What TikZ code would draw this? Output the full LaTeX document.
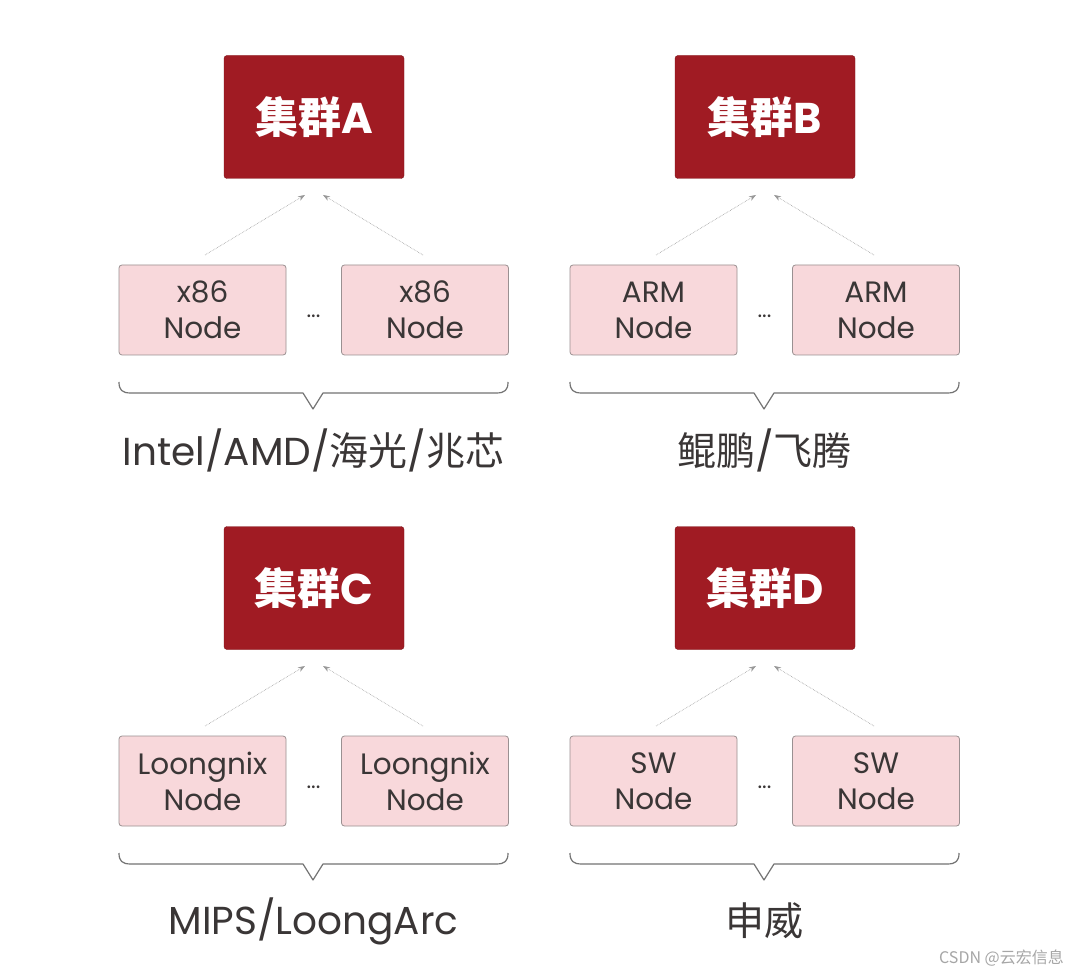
\documentclass[tikz,border=0pt]{standalone}
\usepackage{fontspec}
\setmainfont{Poppins}
\newfontfamily\cjk{Noto Sans CJK SC}
\usetikzlibrary{arrows.meta}
\definecolor{clred}{HTML}{A01B23}
\definecolor{nodepink}{HTML}{F8D8DB}
\definecolor{nodeedge}{HTML}{9A9091}
\definecolor{txt}{HTML}{3A3636}
\tikzset{
  redbox/.style={fill=clred, draw=clred!80!black, rounded corners=3pt, minimum width=180pt, minimum height=123pt, inner sep=0pt,
    text=white, font=\fontsize{43}{45}\selectfont\bfseries},
  pinkbox/.style={fill=nodepink, draw=nodeedge, line width=0.8pt, rounded corners=3pt, minimum width=167pt, minimum height=90pt, inner sep=0pt,
    text=txt, align=center, font=\fontsize{29.5}{36}\selectfont},
  dotslbl/.style={text=txt, font=\fontsize{22}{24}\selectfont, inner sep=0pt},
  grouplbl/.style={text=txt, font=\fontsize{39}{44}\selectfont, inner sep=0pt},
  conn/.style={draw=gray!80, line width=0.6pt, densely dotted, -{Stealth[length=7pt,width=5pt]}},
  bracepath/.style={draw=gray!90!black, line width=1.2pt, line join=round},
}
\newcommand{\clustergroup}[6]{%
  \begin{scope}[xshift=#2pt, yshift=-#3pt]
    \node[redbox] (r#1) at (314,117) {{\cjk\bfseries 集群}#1};
    \node[pinkbox] (p#1a) at (202.5,310) {#4\\Node};
    \node[pinkbox] (p#1b) at (425,310) {#4\\Node};
    \node[dotslbl] (d#1) at (313.5,316) {...};
    \coordinate (s#1a) at (205,255);
    \coordinate (s#1b) at (423,255);
    \coordinate (e#1a) at (305,195);
    \coordinate (e#1b) at (323,195);
    \draw[conn] (s#1a) -- (e#1a);
    \draw[conn] (s#1b) -- (e#1b);
    \draw[bracepath] (119,382) .. controls (119,390) and (122,393) .. (131,393) -- (303,393) -- (313,409) -- (323,393) -- (496,393) .. controls (505,393) and (508,390) .. (508,382);
    \node[grouplbl] (l#1) at (313.5,450) {#5};
  \end{scope}}
\begin{document}
\begin{tikzpicture}[x=1pt,y=-1pt]
  \useasboundingbox[fill=white] (0,0) rectangle (1080,976);
  \clustergroup{A}{0}{0}{x86}{Intel/AMD/{\cjk 海光}/{\cjk 兆芯}}{}
  \clustergroup{B}{451}{0}{ARM}{{\cjk 鲲鹏}/{\cjk 飞腾}}{}
  \clustergroup{C}{0}{471}{Loongnix}{MIPS/LoongArc}{}
  \clustergroup{D}{451}{471}{SW}{{\cjk 申威}}{}
  \node[text=gray!70, font=\cjk\fontsize{16}{18}\selectfont, inner sep=0pt, anchor=east] (wm) at (1064,958) {CSDN @云宏信息};
\end{tikzpicture}
\end{document}
